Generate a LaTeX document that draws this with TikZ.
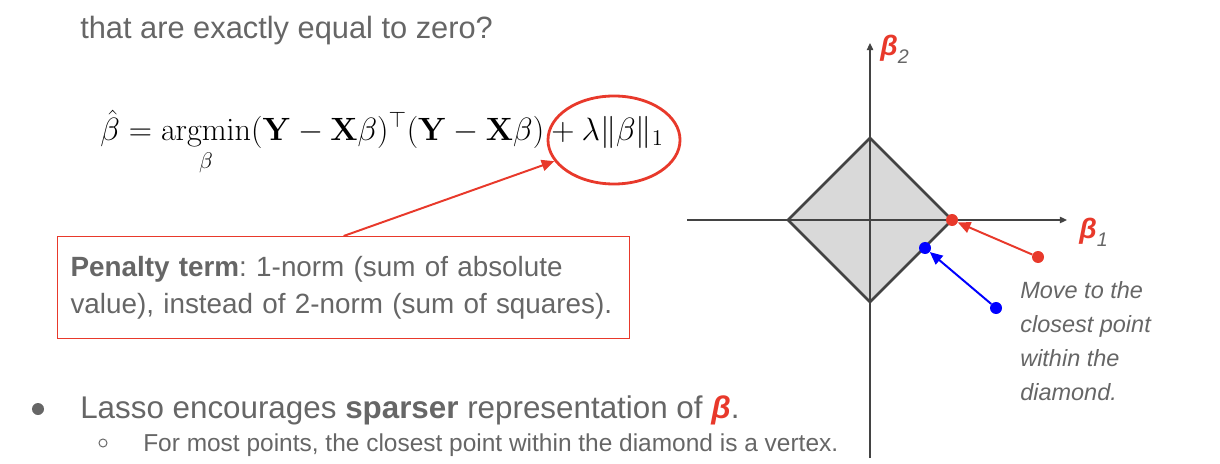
\documentclass[tikz,border=0pt]{standalone}
\usepackage{fix-cm}
\usepackage{amsmath}
\usepackage[no-math]{fontspec}
\setmainfont{Liberation Sans}
\usetikzlibrary{positioning}
\usetikzlibrary{shapes.geometric, arrows.meta}

\definecolor{txtgray}{HTML}{666666}
\definecolor{penred}{HTML}{E8392B}
\definecolor{axgray}{HTML}{434343}
\definecolor{ptblue}{HTML}{0000FF}
\definecolor{diafill}{HTML}{D9D9D9}

\tikzset{
  slidetext/.style={text=txtgray, inner sep=0pt},
  axisline/.style={draw=axgray, line width=0.9pt, -{Triangle[length=5pt,width=4.5pt]}},
  pointdot/.style={circle, inner sep=0pt, minimum size=0.3cm},
  moveline/.style={line width=1.4pt, -{Triangle[length=9pt,width=8pt]}},
}
\frenchspacing

\begin{document}
\begin{tikzpicture}[x=0.025cm, y=-0.025cm]
\useasboundingbox (0,0) rectangle (1220,464);

\node[slidetext, anchor=base west, font=\fontsize{21.9}{26}\selectfont] (head) at (80,39) {that are exactly equal to zero?};

\node[anchor=base west, inner sep=0pt, font=\fontsize{22.9}{26}\selectfont] (eq) at (100,141) {$\displaystyle \hat{\beta} = \operatorname*{argmin}_{\beta} (\mathbf{Y}-\mathbf{X}\beta)^{\top}(\mathbf{Y}-\mathbf{X}\beta) + \lambda\|\beta\|_1$};
\node[draw=penred, line width=2pt, ellipse, minimum width=3.3cm, minimum height=2.2cm] (pen) at (614,140) {};

\node[draw=penred, line width=0.8pt, anchor=north west, minimum width=14.3cm, minimum height=2.55cm, text width=13.65cm, inner xsep=0.325cm, align=left, text=txtgray, font=\fontsize{19.8}{26.3}\selectfont] (note) at (57,236) {\textbf{Penalty term}: 1-norm (sum of absolute\\value), instead of 2-norm (sum of squares).};
\draw[draw=penred, fill=penred, moveline] (note.north) -- (pen);

% bullets
\node[circle, fill=txtgray, inner sep=0pt, minimum size=0.3cm] (dot1) at (38,409) {};
\node[slidetext, anchor=base west, font=\fontsize{22.3}{26}\selectfont] (lasso) at (80,418) {Lasso encourages \textbf{sparser} representation of {\color{penred}\bfseries\itshape β}.};
\node[circle, draw=txtgray, line width=0.7pt, inner sep=0pt, minimum size=0.2cm] (dot2) at (103,443) {};
\node[slidetext, anchor=base west, font=\fontsize{17.4}{20}\selectfont] (most) at (143,451) {For most points, the closest point within the diamond is a vertex.};

% axes and diamond
\coordinate (xl) at (687,220);
\coordinate (xr) at (1067,220);
\coordinate (yb) at (870,458);
\coordinate (yt) at (870,43);
\fill[diafill] (788,220) -- (870,138) -- (952,220) -- (870,302) -- cycle;
\draw[axisline] (xl) -- (xr);
\draw[axisline] (yb) -- (yt);
\draw[axgray, line width=1.8pt, line join=miter] (788,220) -- (870,138) -- (952,220) -- (870,302) -- cycle;

\node[anchor=base west, inner sep=0pt, font=\fontsize{20}{22}\selectfont] (b2) at (880,56) {{\color{penred}\bfseries\itshape β}\raisebox{-5pt}{\color{txtgray}\itshape\fontsize{14}{16}\selectfont 2}};
\node[anchor=base west, inner sep=0pt, font=\fontsize{20}{22}\selectfont] (b1) at (1079,239) {{\color{penred}\bfseries\itshape β}\raisebox{-5pt}{\color{txtgray}\itshape\fontsize{14}{16}\selectfont 1}};

% points
\node[pointdot, fill=penred] (r1) at (952,220) {};
\node[pointdot, fill=penred] (r0) at (1038,257) {};
\node[pointdot, fill=ptblue] (u1) at (925,248) {};
\node[pointdot, fill=ptblue] (u0) at (996,308) {};
\draw[draw=penred, fill=penred, moveline] (r0) -- (r1);
\draw[draw=ptblue, fill=ptblue, moveline] (u0) -- (u1);

\node[slidetext, anchor=north west, align=left, font=\fontsize{16.7}{24.2}\selectfont\itshape] (move) at (1020,281) {Move to the\\closest point\\within the\\diamond.};

\end{tikzpicture}
\end{document}
